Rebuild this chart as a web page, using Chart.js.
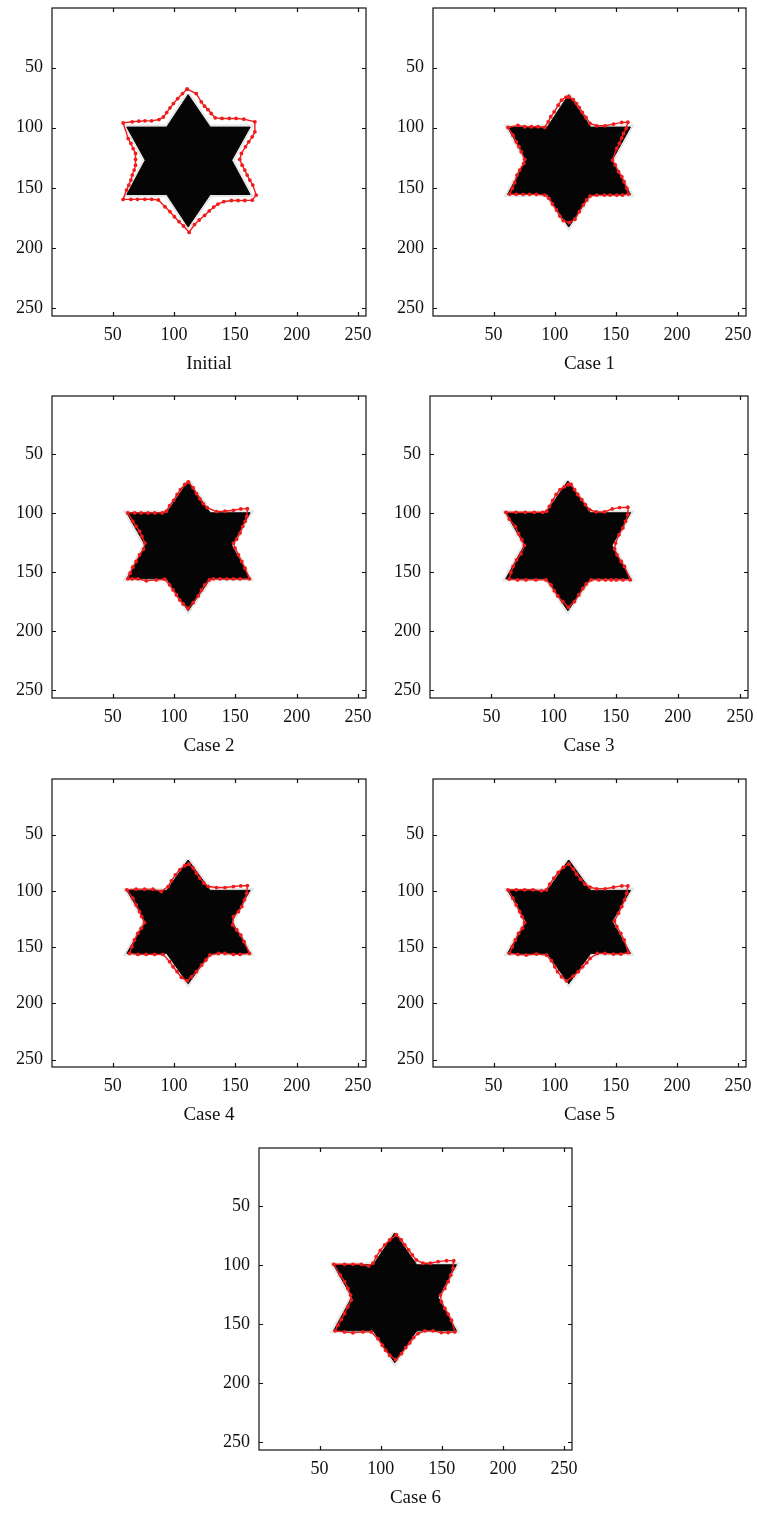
<!DOCTYPE html>
<html>
<head>
<meta charset="utf-8">
<script src="https://cdn.jsdelivr.net/npm/chart.js"></script>
<style>
  body { margin: 0; background: #fff; width: 757px; height: 1513px; position: relative; overflow: hidden; }
  canvas { position: absolute; }
</style>
</head>
<body>
<canvas id="p0"></canvas>
<canvas id="p1"></canvas>
<canvas id="p2"></canvas>
<canvas id="p3"></canvas>
<canvas id="p4"></canvas>
<canvas id="p5"></canvas>
<canvas id="p6"></canvas>
<script>
// tick labels (image pixel coordinates, 1..256)
const tickVals = [50, 100, 150, 200, 250];
const captions = ['Initial', 'Case 1', 'Case 2', 'Case 3', 'Case 4', 'Case 5', 'Case 6'];

// the black six-point star (outline of the image object)
const star = [[111.5,72.5],[129.5,99.5],[162,99.5],[147,127],[162,155.5],[129.5,155.5],
  [111.5,182.5],[94,155.5],[61.5,155.5],[76.5,127],[61.5,99.5],[94,99.5]];

// red contours [x, y]
const initialContour = [[110.7,68],[118.1,71.6],[122.2,78.5],[124.9,82.1],[127.6,84.9],[130.3,88.2],[133.6,91.8],
  [139.1,92.3],[145.1,92.3],[150.6,92.3],[156.9,92.9],[165.9,95.1],[165.9,103.4],[163.7,107.6],[160.9,111.7],
  [158.2,115.9],[154.9,121.4],[153.6,126.4],[155.5,131.1],[157.7,135.2],[159.6,139.4],[161.8,143.5],[164.2,147.7],
  [167,156],[163.7,160.2],[157.7,160.5],[152.2,160.5],[146.7,160.5],[140.5,161.5],[135.8,163.5],[132.3,166],
  [128.7,169.2],[124.9,172.9],[120.5,176.7],[116.7,180.5],[112.3,187],[107.7,181.7],[104.1,178.1],[100.3,174],
  [96.7,169.8],[92.6,165.7],[87.2,160.1],[81.7,159.5],[76.2,159.5],[70.2,159.5],[64.8,159.6],[58.5,159.6],
  [61.2,151.8],[63.1,147.7],[64.8,143.5],[65.9,139.4],[67.5,135.2],[68.6,131.1],[68.6,126.4],[68.6,121.4],
  [66.7,117.3],[64.8,113.1],[62.6,109],[58.5,96],[65.9,95.1],[71.3,94.6],[76.3,94.3],[81.7,94.3],[87.7,93.2],
  [91.3,91],[94,87.4],[96.7,83.5],[99.5,79.9],[103,75.8],[106.9,71.6]];

const case1Contour = [[111.6,74.3],[115.2,76.6],[117.9,79.9],[120.1,83.2],[122.6,87.3],[125.6,91.5],[128.9,96.5],
  [134.4,98.4],[141.2,98.4],[148.1,97],[154.9,95.6],[159.9,95.4],[158.5,100.6],[156.3,104.8],[154.9,108.4],
  [153,113],[150.8,117.2],[147.3,126.9],[149.5,131],[152.2,136.6],[154.9,140.7],[156.8,144.9],[159,150.4],
  [160.4,155.1],[155.5,156],[150.8,156],[145.3,156],[140.7,156],[134.4,156],[128.9,156.8],[126.2,160.1],
  [123.4,164.2],[120.1,169.8],[116.6,176.1],[111.9,178.9],[107,177.2],[104.2,173.4],[101.5,168.4],[98.2,163.4],
  [95.2,158.7],[91.9,156],[85.1,155.4],[79.6,155.4],[74.1,155.4],[68.6,155.4],[63.2,155.1],[65.3,150.4],
  [67.3,145.7],[69.2,139.4],[71.4,135.2],[74.7,129.7],[75.5,126.3],[72.7,120],[70.8,115.8],[68.6,111.7],
  [65.9,106.2],[61.8,99.8],[70,98.1],[75.5,99.2],[81,99.2],[86.4,99.2],[91.9,99.8],[94.7,95.1],[96.8,90.9],
  [99.6,86.8],[102.9,81.3],[105.6,77.1],[109.2,74.9]];

const case2Contour = [[111.7,73.5],[115.6,78.4],[118.3,83.2],[121,87.7],[123.8,91.7],[127,95.1],[134.7,98.5],
  [141.5,98.2],[148.4,97.4],[154.4,96.2],[159.8,96],[159.3,102.5],[157.9,106.7],[156,111],[153.8,116.7],
  [151.1,121.8],[148.4,125.2],[149.7,129.4],[152.5,135.1],[155.2,140.8],[157.9,146.5],[161.5,155.5],
  [153.8,155.5],[148.4,155.5],[142.9,155.5],[137.4,155.5],[132,155.5],[128.7,156.4],[125.1,160.6],[122.4,164.9],
  [119.7,170],[115.6,175.7],[111.5,180.5],[107.4,176.8],[104.6,173.4],[101.9,169.1],[99.2,164.9],[96.4,160.6],
  [92.3,155.8],[85.5,156.4],[77.3,157.2],[70.5,155.5],[65.8,155.5],[62.3,155.5],[64.2,150.7],[66.4,145.6],
  [69.1,140.8],[71.9,135.1],[75.1,130.3],[76.2,125.2],[73.8,119.5],[71.9,115.2],[69.1,111],[66.4,106.7],
  [62.3,99.6],[67.8,99.6],[73.2,99.6],[78.7,99.6],[84.2,99.6],[90.4,99.6],[93.7,98.2],[96.4,93.4],[99.7,88.9],
  [102.5,84],[105.2,79.8],[108.7,75.5]];

const case3Contour = [[111.9,75.5],[114.1,75.5],[116.8,79.8],[119.4,84],[122.7,88.3],[125.6,92.6],[128.9,96.8],
  [134.3,98.8],[141,98.8],[147.2,96.2],[153.1,95.1],[159.8,94.8],[159.8,101.1],[157.9,106.7],[155.8,112.4],
  [152.6,118.1],[149.9,125.2],[149.1,130.3],[151,135.1],[154.4,140.8],[157.1,145],[161.7,156.4],[155.8,156.4],
  [150.4,156.4],[146.4,156.4],[141.8,156.4],[136.4,156.4],[130.2,156.4],[126.2,159.8],[123.5,163.5],[120.3,169.1],
  [116.8,174.8],[111.9,179.6],[107.3,174.8],[103.3,170],[100.6,165.5],[97.9,160.6],[93.9,156.4],[85.8,156.4],
  [77.7,156.4],[71,156.4],[64.3,155.8],[65.6,150.1],[67.5,145],[70.2,139.4],[73.7,134.3],[76.4,127.2],
  [74.5,122.3],[71.8,117.2],[69.1,111],[64.3,104.8],[61.6,99.1],[69.7,99.1],[77.2,99.1],[84.5,99.1],[91.2,99.1],
  [94.4,98.2],[96.6,94],[99.3,88.9],[102,84],[105.2,79.8],[108.7,77.5]];

const case4Contour = [[112,76.2],[115.6,79.7],[118.3,84.2],[121,88.6],[124.3,93.1],[127.9,96.1],[134.7,97],
  [141.5,97],[148.4,96.1],[154.4,95.5],[159.8,95.2],[159.3,102],[157.4,107.9],[155.2,113.9],[152.5,118.4],
  [148.4,122.8],[147.8,130.2],[151.1,134.7],[154.4,139.2],[157.1,145.1],[161.5,155.5],[153.8,156.4],[148.4,156.4],
  [141.5,155.5],[136.1,155.5],[129.2,157],[126,161.4],[122.4,165.9],[118.3,171.8],[114.2,176.3],[110.7,179.9],
  [106,176.9],[102.5,171.8],[99.2,167.4],[96.4,162.9],[91,156.4],[84.2,156.4],[77.3,156.4],[70.5,156.4],
  [63.7,155.5],[65.6,149.6],[67.8,143.6],[70.5,137.7],[73.2,133.2],[76,128.2],[73.6,122.8],[71.9,118.4],
  [69.1,112.4],[66.4,106.5],[61.5,99],[69.1,98.4],[76,98.4],[82.8,98.4],[89.6,100.5],[95.1,96.1],[97.8,91],
  [101.1,85.7],[104.6,81.2],[108.7,77.6]];

const case5Contour = [[111.6,76.2],[115.2,80.6],[117.9,85.1],[121.2,89.5],[124.8,94],[128.9,96.7],[134.4,98.1],
  [141.2,98.1],[148.1,96.7],[154.9,95.5],[159.9,95.5],[159,102],[157.1,107.9],[154.9,113.9],[152.2,119.8],
  [148.9,126.7],[150.8,131.7],[154.1,137.7],[156.8,143.6],[160.4,154.9],[154.1,156.1],[148.1,156.1],[141.2,155.5],
  [134.9,155.5],[128.9,160],[126.2,163.8],[122.9,167.4],[119.3,171.8],[115.2,175.7],[109.7,179.9],[105.6,176.3],
  [102.3,171.8],[100.1,167.4],[97.4,162],[93.3,157],[85.1,156.1],[76.8,157],[70,156.4],[63.2,155.5],[65.3,149.6],
  [67.8,143.6],[70.5,137.7],[73.6,133.2],[75.5,128.2],[73.3,122.8],[71.4,118.4],[68.6,112.4],[65.9,106.5],
  [61.8,99],[68.6,99],[75.5,99],[82.3,99],[89.2,99.9],[93.3,99],[96,94],[99.3,88.6],[102.9,83.6],[107,79.1]];

const case6Contour = [[112.8,74.1],[116.9,78.4],[119.7,82.6],[122.9,86.9],[125.9,91.1],[129.2,95.4],[134.6,98.2],
  [140.7,98.2],[147,96.8],[153.8,96],[159.8,96],[159.3,102.5],[157.4,108.2],[155.2,113.8],[152.5,119.5],
  [148.9,125.2],[149.7,130.9],[152.5,136.5],[155.2,141.3],[157.9,146.5],[160.7,156.4],[155.2,157],[149.7,157],
  [142.9,155.5],[136.1,155.5],[130.6,157.8],[127,161.2],[123.8,165.7],[120.5,169.7],[117,174.8],[112.3,179.9],
  [107.4,176.2],[104.1,172],[101.4,167.7],[97.8,162.1],[92.3,156.4],[85.5,156.4],[77.3,157.2],[70.5,156.4],
  [62.8,155.5],[65,150.7],[67.8,145.9],[70.5,140.8],[73.2,135.1],[76,129.4],[75.4,125.2],[73.2,119.5],
  [70.5,113.8],[67,108.2],[61.7,99.1],[70.5,99.1],[77.3,99.1],[84.2,99.1],[90.2,100.5],[93.7,98.2],[96.4,92.6],
  [99.7,87.4],[103.3,82.6],[107.4,78.4]];

const contours = [initialContour, case1Contour, case2Contour, case3Contour, case4Contour, case5Contour, case6Contour];

// plot boxes on the page
const frames = [
  { left: 52, top: 8, w: 314, h: 308 },
  { left: 433, top: 8, w: 313, h: 308 },
  { left: 52, top: 396, w: 314, h: 302 },
  { left: 430, top: 396, w: 318, h: 302 },
  { left: 52, top: 779, w: 314, h: 288 },
  { left: 433, top: 779, w: 313, h: 288 },
  { left: 259, top: 1148, w: 313, h: 302 }
];

const AXW = 50, PADT = 8, PADR = 9, XAXH = 62;
const serif = 'Liberation Serif, Times New Roman, serif';

const framePlugin = {
  id: 'frame',
  afterDraw(chart) {
    const { ctx, chartArea: a, scales: { x, y } } = chart;
    ctx.save();
    ctx.strokeStyle = '#111';
    ctx.lineWidth = 1.2;
    ctx.strokeRect(a.left, a.top, a.right - a.left, a.bottom - a.top);
    ctx.beginPath();
    tickVals.forEach(v => {
      const px = Math.round(x.getPixelForValue(v)) + 0.5;
      const py = Math.round(y.getPixelForValue(v)) + 0.5;
      ctx.moveTo(px, a.bottom); ctx.lineTo(px, a.bottom - 4);
      ctx.moveTo(px, a.top); ctx.lineTo(px, a.top + 4);
      ctx.moveTo(a.left, py); ctx.lineTo(a.left + 4, py);
      ctx.moveTo(a.right, py); ctx.lineTo(a.right - 4, py);
    });
    ctx.stroke();
    ctx.restore();
  }
};

const closed = pts => pts.concat([pts[0]]).map(p => ({ x: p[0], y: p[1] }));
const noPad = s => { s.paddingTop = 0; s.paddingBottom = 0; s.paddingLeft = 0; s.paddingRight = 0; };

frames.forEach((f, i) => {
  const cv = document.getElementById('p' + i);
  cv.width = AXW + f.w + PADR;
  cv.height = PADT + f.h + XAXH;
  cv.style.left = (f.left - AXW) + 'px';
  cv.style.top = (f.top - PADT) + 'px';

  new Chart(cv, {
    type: 'scatter',
    data: {
      datasets: [
        { data: closed(contours[i]), showLine: true, tension: 0, fill: false,
          borderColor: '#f01c1c', borderWidth: 1.4, pointRadius: 1.9,
          pointBackgroundColor: '#f01c1c', pointBorderWidth: 0 },
        { data: closed(star), showLine: true, tension: 0, fill: 'shape',
          borderColor: '#050505', borderWidth: 1, backgroundColor: '#050505', pointRadius: 0 },
        { data: closed(star), showLine: true, tension: 0, fill: 'shape',
          borderColor: '#e6e6e6', borderWidth: 5, backgroundColor: '#e6e6e6', pointRadius: 0 }
      ]
    },
    options: {
      responsive: false,
      animation: false,
      devicePixelRatio: 1,
      layout: { padding: { top: PADT, right: PADR, left: 0, bottom: 0 } },
      plugins: { legend: { display: false }, tooltip: { enabled: false } },
      scales: {
        x: {
          type: 'linear', min: 0.5, max: 256.5,
          grid: { display: false, drawTicks: false }, border: { display: false },
          afterBuildTicks: s => { s.ticks = tickVals.map(v => ({ value: v })); },
          afterFit: s => { s.height = XAXH; noPad(s); },
          ticks: { autoSkip: false, maxRotation: 0, padding: 8, color: '#111',
                   font: { family: serif, size: 18 } },
          title: { display: true, text: captions[i], color: '#111',
                   padding: { top: 0, bottom: 3 }, font: { family: serif, size: 19 } }
        },
        y: {
          type: 'linear', reverse: true, min: 0.5, max: 256.5,
          grid: { display: false, drawTicks: false }, border: { display: false },
          afterBuildTicks: s => { s.ticks = tickVals.map(v => ({ value: v })); },
          afterFit: s => { s.width = AXW; noPad(s); },
          ticks: { autoSkip: false, padding: 9, color: '#111',
                   font: { family: serif, size: 18 } }
        }
      }
    },
    plugins: [framePlugin]
  });
});
</script>
</body>
</html>
